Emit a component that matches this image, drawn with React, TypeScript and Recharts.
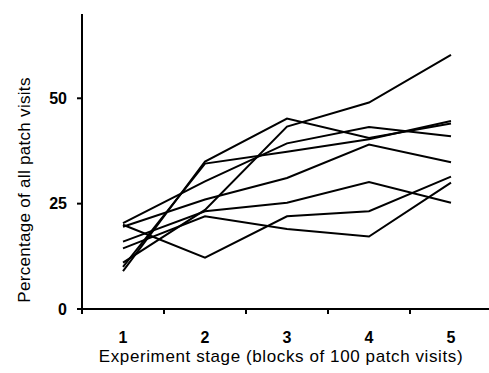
import { LineChart, Line, XAxis, YAxis, Label } from 'recharts';

const stages = [1, 2, 3, 4, 5];
const stageTicks = [1, 2, 3, 4, 5];
const boundaryTicks = [0.5, 1.5, 2.5, 3.5, 4.5, 5.5];
const yTicks = [0, 25, 50];

// one array per individual, values at stages 1..5
const s1 = [11, 23.5, 43.3, 49, 60.3];
const s2 = [9, 35, 45.2, 40.6, 44];
const s3 = [10, 34.5, 37.3, 40.3, 44.6];
const s4 = [20.4, 30.3, 39.3, 43.2, 41];
const s5 = [19.5, 26, 31.1, 39, 34.8];
const s6 = [16, 23.2, 25.2, 30.1, 25.2];
const s7 = [20, 12.2, 22, 23.2, 31.4];
const s8 = [14.4, 22, 19, 17.2, 30];

const series = [s1, s2, s3, s4, s5, s6, s7, s8];
const keys = series.map((_, i) => `s${i + 1}`);

const data = stages.map((stage, i) => {
  const row: Record<string, number> = { stage };
  series.forEach((s, j) => {
    row[keys[j]] = s[i];
  });
  return row;
});

const font = '"Liberation Sans", Arial, sans-serif';
const tickStyle = { fill: '#000', fontSize: 16, fontWeight: 'bold', fontFamily: font };

export default function App() {
  return (
    <div style={{ position: 'absolute', left: 0, top: 0, fontFamily: font, background: '#fff' }}>
      <LineChart width={489} height={373} data={data} margin={{ top: 14, right: -3, left: 0, bottom: 0 }}>
        <XAxis
          xAxisId="b"
          dataKey="stage"
          type="number"
          domain={[0.5, 5.5]}
          ticks={stageTicks}
          axisLine={false}
          tickLine={false}
          tickSize={0}
          tickMargin={18}
          height={59}
          tick={tickStyle}
        >
          <Label
            value="Experiment stage (blocks of 100 patch visits)"
            position="insideBottom"
            offset={11}
            dx={-6}
            style={{ fill: '#000', fontSize: 17, letterSpacing: 0.6, fontFamily: font }}
          />
        </XAxis>
        <XAxis
          xAxisId="a"
          dataKey="stage"
          type="number"
          domain={[0.5, 5.5]}
          ticks={boundaryTicks}
          tick={() => <g />}
          tickSize={5}
          height={5}
          axisLine={{ stroke: '#000', strokeWidth: 2 }}
          tickLine={{ stroke: '#000', strokeWidth: 2 }}
        />
        <YAxis
          domain={[0, 70]}
          ticks={yTicks}
          width={82}
          tickSize={5}
          tickMargin={10}
          tick={tickStyle}
          axisLine={{ stroke: '#000', strokeWidth: 2 }}
          tickLine={{ stroke: '#000', strokeWidth: 2 }}
        >
          <Label
            content={() => (
              <text
                transform="translate(30, 190) rotate(-90)"
                textAnchor="middle"
                fill="#000"
                fontSize={17}
                letterSpacing={0.3}
                fontFamily={font}
              >
                Percentage of all patch visits
              </text>
            )}
          />
        </YAxis>
        {keys.map((k) => (
          <Line
            key={k}
            xAxisId="b"
            dataKey={k}
            type="linear"
            stroke="#000"
            strokeWidth={2}
            dot={false}
            isAnimationActive={false}
          />
        ))}
      </LineChart>
    </div>
  );
}
